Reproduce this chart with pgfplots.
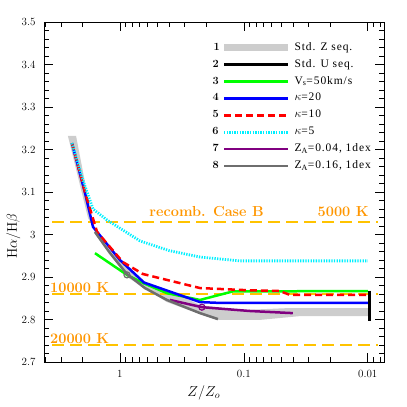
\documentclass[border=0pt]{standalone}
\usepackage{fontspec}
\usepackage{pgfplots}
\pgfplotsset{compat=1.18}
\newfontfamily\legfont{Liberation Serif}[LetterSpace=8]
\definecolor{bandgray}{RGB}{205,205,205}
\definecolor{dgray}{RGB}{110,110,110}
\definecolor{purp}{RGB}{128,0,128}
\definecolor{orl}{RGB}{255,195,0}
\definecolor{ort}{RGB}{255,150,0}
\definecolor{cyn}{RGB}{0,240,255}
\newcommand\lsp{\legfont\fontsize{11.5}{14}\selectfont}
\newcommand\olab{\fontsize{14.5}{16}\selectfont\bfseries}
\pgfplotsset{numleg/.style={legend image code/.code={\draw[##1] (0pt,0pt) -- (64pt,0pt); \node[black,anchor=east,inner sep=0pt,font=\fontsize{11}{12}\selectfont\bfseries] at (-4pt,0pt) {#1};}}}
\begin{document}
\begin{tikzpicture}
\path[use as bounding box] (-44pt,-45pt) rectangle (363pt,362pt);
\begin{axis}[
  at={(0pt,0pt)}, anchor=south west,
  scale only axis, width=340pt, height=340pt,
  xmode=log, x dir=reverse,
  xmin=0.0074, xmax=4.1, ymin=2.7, ymax=3.5,
  xtick={1,0.1,0.01}, xticklabels={1,0.1,0.01},
  minor xtick={0.008,0.009,0.02,0.03,0.04,0.05,0.06,0.07,0.08,0.09,0.2,0.3,0.4,0.5,0.6,0.7,0.8,0.9,2,3,4},
  ytick={2.7,2.8,2.9,3,3.1,3.2,3.3,3.4,3.5},
  yticklabels={2.7,2.8,2.9,3,3.1,3.2,3.3,3.4,3.5},
  minor y tick num=4,
  tick align=inside,
  major tick length=9pt, minor tick length=5pt,
  every tick/.style={black, line width=0.6pt},
  axis line style={line width=0.9pt},
  tick label style={font=\fontsize{11}{13}\selectfont},
  yticklabel style={xshift=-5pt},
  xticklabel style={yshift=-5pt},
  xlabel={$Z/Z_o$}, ylabel={H$\alpha$/H$\beta$},
  label style={font=\fontsize{14}{16}\selectfont},
  xlabel style={at={(axis description cs:0.47,-0.09)}, anchor=center},
  ylabel style={at={(axis description cs:-0.09,0.37)}, anchor=center, rotate=0},
  legend style={at={(axis description cs:0.486,0.950)}, anchor=north west, draw=none, fill=none,
    row sep=3.9pt, nodes={inner xsep=3pt, inner ysep=1pt, text height=8pt, text depth=3pt}},
  legend cell align=left,
  clip=true,
]
% 1 Std Z seq (band)
\addplot[fill=bandgray, draw=none,
  legend image code/.code={\draw[bandgray, line width=7pt] (0pt,0pt) -- (64pt,0pt); \node[black,anchor=east,inner sep=0pt,font=\fontsize{11}{12}\selectfont\bfseries] at (-4pt,0pt) {1};}]
  coordinates {(2.63,3.232) (1.81,3.039) (1.45,2.987) (1.0,2.940) (0.652,2.891) (0.347,2.860) (0.226,2.834) (0.108,2.822) (0.0426,2.827) (0.01,2.827)
               (0.01,2.808) (0.0353,2.808) (0.0743,2.799) (0.162,2.799) (0.226,2.813) (0.418,2.841) (0.878,2.900) (1.59,3.001) (2.26,3.232)} -- cycle;
\addlegendentry{\lsp Std. Z seq.}
% orange recombination lines
\addplot[orl, line width=1.8pt, dash pattern=on 12pt off 6pt, forget plot] coordinates {(3.53,3.03) (0.0083,3.03)};
\addplot[orl, line width=1.8pt, dash pattern=on 12pt off 6pt, forget plot] coordinates {(3.53,2.86) (0.0083,2.86)};
\addplot[orl, line width=1.8pt, dash pattern=on 12pt off 6pt, forget plot] coordinates {(3.53,2.74) (0.0083,2.74)};
% 2 Std U seq
\addplot[black, line width=2.5pt, numleg=2] coordinates {(0.0097,2.868) (0.0097,2.796)};
\addlegendentry{\lsp Std. U seq.}
% 3 Vs=50
\addplot[green, line width=2.5pt, numleg=3] coordinates {(1.59,2.956) (0.878,2.905) (0.652,2.886) (0.418,2.862) (0.226,2.846) (0.123,2.866) (0.01,2.867)};
\addlegendentry{\lsp V\textsubscript{s}=50km/s}
% 4 kappa=20
\addplot[blue, line width=2.5pt, numleg=4] coordinates {(2.44,3.215) (1.915,3.098) (1.65,3.018) (1.0,2.940) (0.64,2.887) (0.226,2.841) (0.156,2.839) (0.01,2.839)};
\addlegendentry{\lsp $\kappa$=20}
% 5 kappa=10
\addplot[red, line width=2.5pt, dash pattern=on 7pt off 4pt, numleg=5] coordinates {(2.44,3.215) (1.915,3.100) (1.53,3.006) (0.946,2.935) (0.652,2.907) (0.226,2.874) (0.095,2.869) (0.0513,2.867) (0.0426,2.858) (0.01,2.858)};
\addlegendentry{\lsp $\kappa$=10}
% 6 kappa=5
\addplot[cyn, line width=2.8pt, dash pattern=on 1.3pt off 1.3pt, numleg=6] coordinates {(2.44,3.215) (1.99,3.128) (1.65,3.060) (1.27,3.034) (0.69,2.985) (0.40,2.962) (0.226,2.947) (0.108,2.938) (0.01,2.938)};
\addlegendentry{\lsp $\kappa$=5}
% 7 ZA=0.04
\addplot[purp, line width=2.5pt, numleg=7] coordinates {(0.395,2.846) (0.218,2.829) (0.0895,2.820) (0.0403,2.815)};
\addlegendentry{\lsp Z\textsubscript{A}=0.04, 1dex}
% 8 ZA=0.16
\addplot[dgray, line width=2.5pt, numleg=8] coordinates {(1.59,3.006) (1.2,2.956) (0.878,2.907) (0.629,2.874) (0.418,2.846) (0.226,2.815) (0.162,2.801)};
\addlegendentry{\lsp Z\textsubscript{A}=0.16, 1dex}
% markers
\addplot[only marks, mark=o, mark size=3pt, dgray, line width=1.2pt, forget plot] coordinates {(0.878,2.905)};
\addplot[only marks, mark=o, mark size=3pt, purp, line width=1.2pt, forget plot] coordinates {(0.218,2.829)};
% labels
\node[ort, font=\olab, anchor=center] at (axis cs:0.2,3.053) {recomb. Case B};
\node[ort, font=\olab, anchor=center] at (axis cs:0.0158,3.053) {5000 K};
\node[ort, font=\olab, anchor=west] at (axis cs:3.9,2.876) {10000 K};
\node[ort, font=\olab, anchor=west] at (axis cs:3.9,2.756) {20000 K};
\end{axis}
\end{tikzpicture}
\end{document}
